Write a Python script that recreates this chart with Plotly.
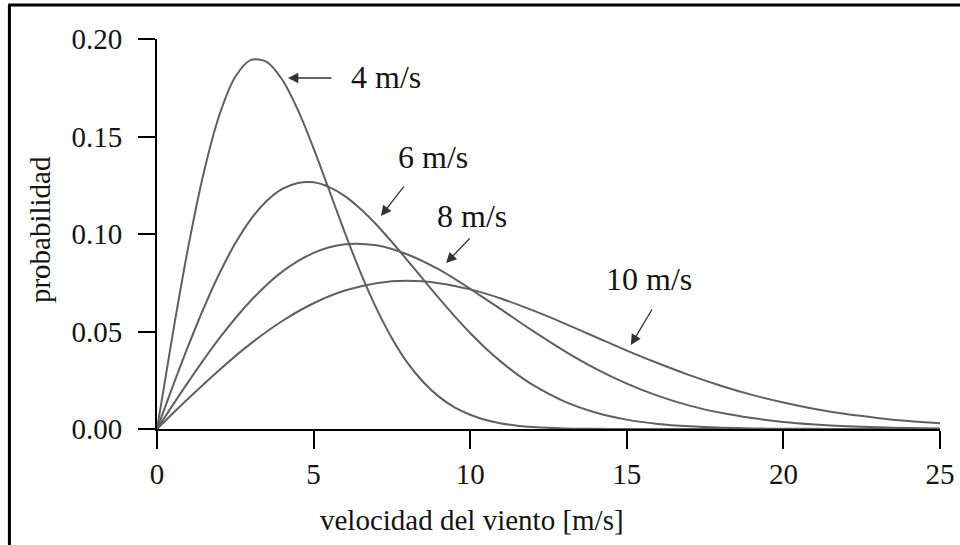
import plotly.graph_objects as go

# wind speed [m/s] (finer steps where the curves bend sharply)
v_fine = [i * 0.5 for i in range(0, 25)] + list(range(13, 26))
v = list(range(0, 26))

# probability curves (mean wind speed labels)
p4 = [0.0, 0.0485, 0.0935, 0.1319, 0.1614, 0.1806, 0.1893, 0.1883, 0.1791, 0.1635,
      0.1439, 0.1223, 0.1006, 0.0802, 0.0620, 0.0466, 0.0339, 0.0241, 0.0166, 0.0111,
      0.0073, 0.0046, 0.0028, 0.0017, 0.0010,
      0.0003, 0.0001, 0.0, 0.0, 0.0, 0.0, 0.0, 0.0, 0.0, 0.0, 0.0, 0.0, 0.0]
p6 = [0.0, 0.0217, 0.0427, 0.0623, 0.0800, 0.0952, 0.1076, 0.1169, 0.1231, 0.1262,
      0.1265, 0.1240, 0.1194, 0.1128, 0.1049, 0.0959, 0.0864, 0.0767, 0.0671, 0.0579,
      0.0492, 0.0413, 0.0343, 0.0280, 0.0226,
      0.0142, 0.0085, 0.0048, 0.0026, 0.0014, 0.0007, 0.0003, 0.0001, 0.0001, 0.0,
      0.0, 0.0, 0.0]
p8 = [0.0, 0.0242, 0.0467, 0.0659, 0.0807, 0.0903, 0.0947, 0.0942, 0.0895, 0.0818,
      0.0719, 0.0612, 0.0503, 0.0401, 0.0310, 0.0233, 0.0170, 0.0120, 0.0083, 0.0056,
      0.0036, 0.0023, 0.0014, 0.0009, 0.0005, 0.0003]
p10 = [0.0, 0.0156, 0.0304, 0.0439, 0.0554, 0.0645, 0.0710, 0.0748, 0.0760, 0.0748,
       0.0716, 0.0668, 0.0608, 0.0542, 0.0472, 0.0402, 0.0337, 0.0276, 0.0222, 0.0175,
       0.0136, 0.0103, 0.0077, 0.0057, 0.0041, 0.0029]

series = [(v_fine, p4), (v_fine, p6), (v, p8), (v, p10)]

x_ticks = [0, 5, 10, 15, 20, 25]
y_ticks = [0.0, 0.05, 0.10, 0.15, 0.20]
y_tick_text = ["0.00", "0.05", "0.10", "0.15", "0.20"]

labels = ["4 m/s", "6 m/s", "8 m/s", "10 m/s"]
# arrow tip (data coords) and label centre (data coords)
arrow_tips = [(4.18, 0.180), (7.15, 0.1092), (9.23, 0.0851), (15.13, 0.0431)]
label_pos = [(7.31, 0.1805), (8.81, 0.1395), (10.05, 0.1092), (15.70, 0.0769)]

FONT = "Liberation Serif, Times New Roman, serif"
TXT = "#141414"
LINE = "#606060"

fig = go.Figure()
for xs, s in series:
    fig.add_trace(go.Scatter(x=xs, y=s, mode="lines",
                             line=dict(color=LINE, width=2, shape="spline", smoothing=0.8),
                             showlegend=False, hoverinfo="skip"))

arrow_offsets = [(45, 0), (24, -31), (25, -26), (22, -37)]
for (tx, ty), (ax, ay) in zip(arrow_tips, arrow_offsets):
    fig.add_annotation(x=tx, y=ty, xref="x", yref="y", text="", showarrow=True,
                       ax=ax, ay=ay, arrowhead=2, arrowsize=1.6, arrowwidth=1.3,
                       arrowcolor="#333333")
for (lx, ly), t in zip(label_pos, labels):
    fig.add_annotation(x=lx, y=ly, xref="x", yref="y", text=t, showarrow=False,
                       xanchor="center", yanchor="middle",
                       font=dict(family=FONT, size=32, color=TXT))

# axis titles
fig.add_annotation(x=-0.1494, y=0.51, xref="paper", yref="paper", text="probabilidad",
                   showarrow=False, textangle=-90, xanchor="center", yanchor="middle",
                   font=dict(family=FONT, size=29, color=TXT))
fig.add_annotation(x=0.402, y=-0.233, xref="paper", yref="paper",
                   text="velocidad del viento [m/s]", showarrow=False,
                   xanchor="center", yanchor="middle",
                   font=dict(family=FONT, size=29, color=TXT))

# frame lines (left and top) around the figure
fig.add_shape(type="line", xref="paper", yref="paper", x0=-0.1885, x1=-0.1885,
              y0=1.087, y1=-0.3, line=dict(color="black", width=3))
fig.add_shape(type="line", xref="paper", yref="paper", x0=-0.19, x1=1.03,
              y0=1.087, y1=1.087, line=dict(color="black", width=3))

fig.update_layout(
    width=960, height=545,
    margin=dict(l=157, r=20, t=39, b=116),
    paper_bgcolor="white", plot_bgcolor="white",
    font=dict(family=FONT, size=29, color=TXT),
    xaxis=dict(range=[0, 25], tickvals=x_ticks, showgrid=False, zeroline=False,
               showline=True, linecolor="black", linewidth=2, automargin=False,
               ticks="outside", ticklen=18, tickwidth=2, tickcolor="black",
               tickfont=dict(family=FONT, size=29, color=TXT)),
    yaxis=dict(range=[0, 0.2], tickvals=y_ticks, ticktext=y_tick_text, showgrid=False,
               zeroline=False, showline=True, linecolor="black", linewidth=2,
               automargin=False, ticklabelstandoff=10,
               ticks="outside", ticklen=17, tickwidth=2, tickcolor="black",
               tickfont=dict(family=FONT, size=29, color=TXT)),
)

fig.write_html("out.html")
